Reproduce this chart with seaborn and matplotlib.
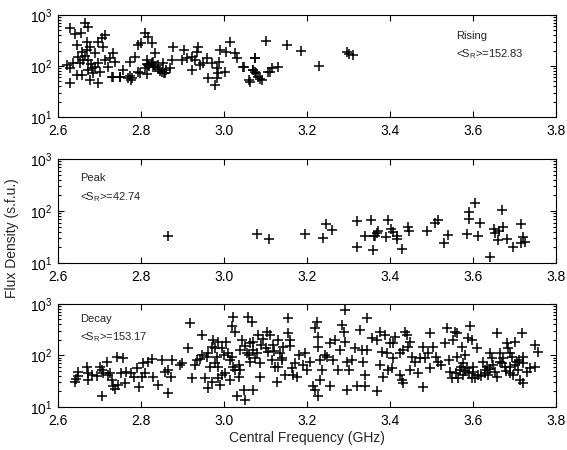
import numpy as np
import pandas as pd
import matplotlib
matplotlib.use("Agg")
import matplotlib.pyplot as plt
import seaborn as sns
from matplotlib.ticker import LogLocator, LogFormatterMathtext, FixedLocator

# ---------------- data ----------------
rising_f = [2.629, 2.641, 2.665, 2.672, 2.655, 2.669, 2.645, 2.657, 2.669, 2.677,
            2.649, 2.661, 2.673, 2.689, 2.705, 2.713, 2.709, 2.697, 2.621, 2.629,
            2.637, 2.653, 2.629, 2.645, 2.657, 2.673, 2.681, 2.689, 2.677, 2.696,
            2.685, 2.697, 2.713, 2.725, 2.733, 2.737, 2.733, 2.749, 2.757, 2.768,
            2.779, 2.773, 2.786, 2.792, 2.800, 2.798, 2.810, 2.818, 2.826, 2.834,
            2.814, 2.826, 2.810, 2.834, 2.842, 2.854, 2.850, 2.858, 2.870, 2.874,
            2.876, 2.898, 2.904, 2.910, 2.922, 2.922, 2.930, 2.934, 2.938, 2.942,
            2.950, 2.958, 2.962, 2.970, 2.978, 2.982, 2.986, 2.989, 2.982, 2.990,
            3.002, 3.005, 3.014, 3.027, 3.032, 3.045, 3.061, 3.069, 3.075, 3.077,
            3.083, 3.091, 3.101, 3.107, 3.151, 3.186, 3.230, 3.297, 3.300, 3.310,
            3.074, 3.071, 3.075, 3.087, 3.063, 3.111, 3.115, 3.131, 3.047,
            2.729, 2.749, 2.773, 2.777, 2.793, 2.814, 2.817, 2.820, 2.830, 2.840,
            2.845, 2.855, 2.860, 2.830, 2.815, 2.665, 2.680, 2.700, 2.720]
rising_s = [548, 424, 687, 590, 437, 300, 258, 190, 206, 239,
            152, 131, 131, 178, 349, 405, 240, 300, 105, 90,
            113, 113, 47, 67, 67, 84, 90, 97, 53, 47,
            72, 113, 131, 142, 178, 122, 62, 62, 84, 57,
            57, 122, 152, 258, 279, 72, 437, 376, 279, 178,
            131, 113, 90, 97, 105, 113, 77, 72, 90, 131,
            233, 131, 206, 142, 152, 84, 131, 190, 239, 105,
            113, 142, 57, 113, 42, 90, 72, 122, 57, 206,
            77, 190, 291, 183, 142, 94, 52, 84, 142, 74,
            62, 52, 313, 77, 258, 197, 101, 185, 172, 166,
            142, 84, 77, 55, 49, 77, 90, 97, 97,
            62, 62, 64, 53, 77, 70, 105, 100, 95, 88,
            80, 72, 85, 120, 110, 160, 110, 75, 95]

peak_f = [2.865, 3.080, 3.108, 3.195, 3.239, 3.246, 3.260, 3.321, 3.321, 3.340,
          3.355, 3.360, 3.361, 3.368, 3.371, 3.365, 3.390, 3.395, 3.402, 3.408,
          3.416, 3.416, 3.430, 3.443, 3.445, 3.490, 3.508, 3.516, 3.530, 3.540,
          3.586, 3.590, 3.591, 3.606, 3.612, 3.617, 3.641, 3.651, 3.652, 3.660,
          3.663, 3.670, 3.672, 3.683, 3.696, 3.715, 3.715, 3.721, 3.726]
peak_s = [33, 36, 28.6, 36, 30.7, 56, 43, 64, 20.6, 33.5,
          67, 17.5, 33.5, 37, 41, 32.6, 31, 67, 44.5, 40,
          33.5, 28.6, 18.3, 48.5, 41, 41, 58, 67, 24.5, 34.5,
          35.5, 97, 71, 140, 33, 60, 13, 44.5, 37, 27.7,
          41, 104, 48.5, 29, 20.6, 55, 24, 32, 25.8]

decay_f = [2.643, 2.647, 2.649, 2.641, 2.669, 2.673, 2.673, 2.681, 2.693, 2.701,
           2.705, 2.709, 2.717, 2.721, 2.725, 2.729, 2.733, 2.741, 2.753, 2.705,
           2.737, 2.745, 2.761, 2.757, 2.765, 2.777, 2.784, 2.790, 2.794, 2.802,
           2.806, 2.810, 2.818, 2.826, 2.830, 2.842, 2.850, 2.858, 2.864, 2.866,
           2.874, 2.872, 2.894, 2.898, 2.914, 2.918, 2.922, 2.930, 2.934, 2.942,
           2.946, 2.946, 2.954, 2.958, 2.962, 2.966, 2.970, 2.962, 2.974, 2.978,
           2.982, 2.986, 2.985, 2.986, 2.990, 2.994, 2.970, 2.978,
           3.022, 3.019, 3.027, 3.006, 2.994, 3.014, 3.022, 3.027, 3.035, 3.039,
           3.002, 3.014, 3.035, 3.047, 3.071, 3.031, 3.051, 3.039, 3.043, 3.059,
           3.067, 3.063, 3.071, 3.055, 3.063, 3.075, 3.083, 3.087, 3.087, 3.095,
           3.103, 3.107, 3.111, 3.115, 3.119, 3.123, 3.127, 3.131, 3.135, 3.139,
           3.143, 3.147, 3.155, 3.155, 3.159, 3.163, 3.167, 3.175, 3.191, 3.195,
           3.199, 3.207, 3.215, 3.219, 3.223, 3.227, 3.227, 3.231, 3.231, 3.227,
           3.219, 3.235, 3.243, 3.247, 3.255, 3.255, 3.263, 3.267, 3.275, 3.280,
           3.284, 3.288, 3.292, 3.292, 3.296, 3.296, 3.300, 3.308, 3.316, 3.320,
           3.328, 3.332, 3.336, 3.340, 3.340, 3.344, 3.344, 3.356, 3.368, 3.376,
           3.376, 3.380, 3.384, 3.388, 3.392, 3.396, 3.400, 3.368,
           3.436, 3.440, 3.412, 3.408, 3.408, 3.404, 3.424, 3.428, 3.432, 3.424,
           3.432, 3.444, 3.448, 3.452, 3.448, 3.460, 3.468, 3.472, 3.480, 3.480,
           3.484, 3.492, 3.496, 3.496, 3.504, 3.512, 3.516, 3.524, 3.533, 3.537,
           3.541, 3.545, 3.549, 3.553, 3.557, 3.561, 3.561, 3.565, 3.569, 3.573,
           3.577, 3.577, 3.581, 3.585, 3.589, 3.593, 3.597, 3.597, 3.601, 3.605,
           3.609, 3.613, 3.625, 3.629, 3.633, 3.637, 3.641, 3.645, 3.649, 3.653,
           3.657, 3.657, 3.665, 3.673, 3.677, 3.681, 3.685, 3.689, 3.693, 3.697,
           3.701, 3.705, 3.709, 3.713, 3.717, 3.721, 3.721, 3.730, 3.737, 3.749,
           3.749, 3.757, 3.665, 3.689,
           3.050, 3.060, 3.070, 3.080, 3.090, 3.100, 3.120, 3.140, 3.170, 3.180,
           3.130, 3.160, 3.560, 3.570, 3.580, 3.590, 3.600, 3.620, 3.630, 3.640,
           3.670, 3.680, 3.700, 3.710, 3.720, 3.690, 3.000, 3.010, 3.020]
decay_s = [34.5, 40, 48.5, 31, 61, 46, 33, 42, 40, 61,
           52, 46, 76, 42, 45, 33, 25.6, 95, 46, 16.4,
           22, 26.7, 29.6, 88, 48.5, 46, 38, 56, 24, 38,
           71, 46, 76, 84, 38, 27, 82, 48.5, 19, 52,
           82, 38, 65, 72, 138, 434, 36, 65, 82, 84,
           250, 102, 36, 95, 110, 61, 31, 23, 200, 138,
           95, 185, 61, 36, 27, 42, 148, 70,
           566, 374, 290, 185, 138, 80, 61, 52, 65, 52,
           45, 33, 38, 21, 21, 16, 13.7, 128, 200, 566,
           453, 173, 185, 110, 76, 88, 250, 70, 39, 206,
           290, 119, 250, 82, 160, 61, 31, 200, 110, 82,
           148, 42, 527, 270, 200, 56, 42, 39, 65, 110,
           52, 76, 25, 337, 453, 232, 148, 82, 33, 16,
           21, 52, 102, 95, 25, 173, 82, 200, 52, 128,
           391, 290, 764, 185, 76, 21, 52, 82, 138, 25,
           313, 128, 76, 42, 25, 527, 128, 216, 200, 290,
           65, 119, 39, 250, 110, 52, 173, 20,
           290, 250, 232, 173, 88, 56, 42, 33, 29, 110,
           128, 148, 185, 95, 52, 76, 45, 88, 148, 24,
           88, 110, 270, 56, 148, 95, 76, 65, 173, 337,
           82, 48.5, 36, 200, 290, 270, 95, 36, 52, 148,
           70, 42, 102, 56, 216, 374, 200, 36, 61, 36,
           138, 42, 76, 52, 61, 42, 110, 88, 65, 48.5,
           270, 39, 76, 88, 61, 173, 138, 61, 95, 42,
           185, 76, 52, 33, 270, 29, 95, 48.5, 56, 61,
           160, 119, 110, 110,
           150, 100, 130, 110, 160, 140, 120, 90, 70, 100,
           60, 150, 45, 60, 50, 45, 48, 40, 45, 55,
           70, 50, 65, 80, 70, 45, 100, 110, 95]

panels = [("Rising", "152.83", rising_f, rising_s),
          ("Peak", "42.74", peak_f, peak_s),
          ("Decay", "153.17", decay_f, decay_s)]

# ---------------- style ----------------
sns.set_theme(style="ticks")
plt.rcParams['font.family'] = ['Liberation Sans', 'DejaVu Sans']
plt.rcParams['mathtext.fontset'] = 'custom'
plt.rcParams['mathtext.rm'] = 'Liberation Sans'
plt.rcParams['mathtext.it'] = 'Liberation Sans:italic'
plt.rcParams['mathtext.bf'] = 'Liberation Sans:bold'

fig = plt.figure(figsize=(5.67, 4.5), dpi=100)
rects = [(0.1023, 0.740, 0.8783, 0.2267),
         (0.1023, 0.4156, 0.8783, 0.2311),
         (0.1023, 0.0956, 0.8783, 0.2289)]
text_pos = [(0.800, 0.79, 0.62), (0.045, 0.82, 0.635), (0.045, 0.85, 0.68)]

for (name, mean, f, s), rect, tp in zip(panels, rects, text_pos):
    ax = fig.add_axes(rect)
    df = pd.DataFrame({"freq": f, "flux": s})
    sns.scatterplot(data=df, x="freq", y="flux", ax=ax, marker="+",
                    color="black", s=60, linewidth=1.1, legend=False)
    ax.set_yscale("log")
    ax.set_xlim(2.6, 3.8)
    ax.set_ylim(10, 1000)
    ax.set_xticks([2.6, 2.8, 3.0, 3.2, 3.4, 3.6, 3.8])
    ax.set_xticklabels(["2.6", "2.8", "3.0", "3.2", "3.4", "3.6", "3.8"])
    ax.yaxis.set_major_locator(FixedLocator([10, 100, 1000]))
    ax.yaxis.set_major_formatter(LogFormatterMathtext())
    ax.yaxis.set_minor_locator(LogLocator(base=10, subs=np.arange(2, 10), numticks=12))
    ax.tick_params(which="both", direction="in", top=True, right=True,
                   labelsize=10, colors="black", width=0.8)
    ax.tick_params(which="major", length=4)
    ax.tick_params(which="minor", length=2)
    ax.tick_params(axis="x", which="major", pad=5)
    ax.tick_params(axis="y", which="major", pad=4)
    for sp in ax.spines.values():
        sp.set_linewidth(0.8)
        sp.set_color("black")
    ax.set_xlabel("")
    ax.set_ylabel("")
    ax.text(tp[0], tp[1], name, transform=ax.transAxes, fontsize=8,
            va="center", ha="left")
    ax.text(tp[0], tp[2], r"<S$_\mathrm{R}$>=" + mean, transform=ax.transAxes,
            fontsize=8, va="center", ha="left")

fig.text(0.021, 0.47, "Flux Density (s.f.u.)", rotation=90, ha="center",
         va="center", fontsize=10)
fig.text(0.541, 0.027, "Central Frequency (GHz)", ha="center", va="center",
         fontsize=10)

fig.savefig("out.png", dpi=100)
